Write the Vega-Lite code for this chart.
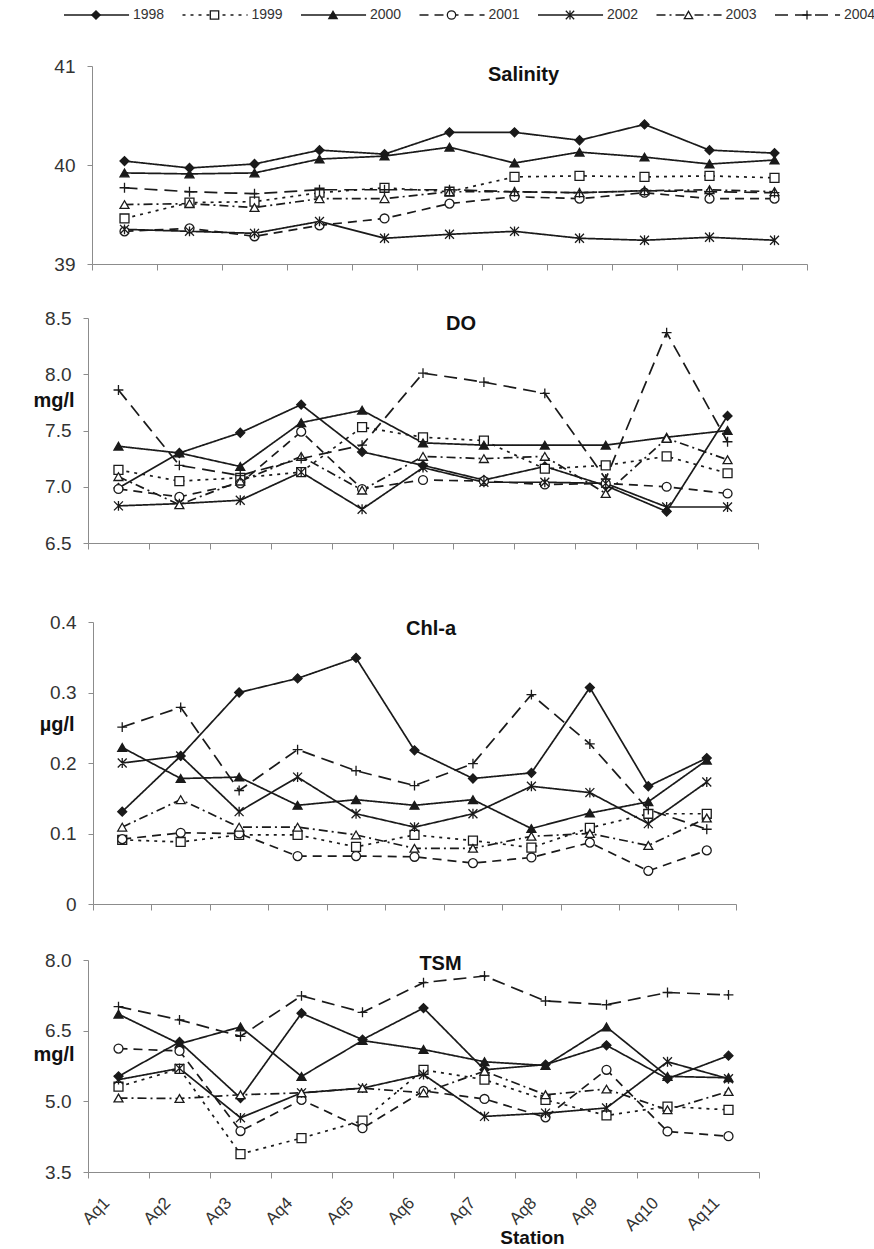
{
"$schema":"https://vega.github.io/schema/vega-lite/v6.json",
"padding":{"left":32,"top":7,"right":0,"bottom":0},
"background":"white",
"config":{"view":{"stroke":null},"font":"Liberation Sans","axis":{"labelOverlap":false}},
"datasets":{
"leg":[{"year":"1998"},{"year":"1999"},{"year":"2000"},{"year":"2001"},{"year":"2002"},{"year":"2003"},{"year":"2004"}],
"sal":[
{"station":"Aq1","year":"1998","value":40.04},{"station":"Aq2","year":"1998","value":39.97},{"station":"Aq3","year":"1998","value":40.01},{"station":"Aq4","year":"1998","value":40.15},{"station":"Aq5","year":"1998","value":40.11},{"station":"Aq6","year":"1998","value":40.33},{"station":"Aq7","year":"1998","value":40.33},{"station":"Aq8","year":"1998","value":40.25},{"station":"Aq9","year":"1998","value":40.41},{"station":"Aq10","year":"1998","value":40.15},{"station":"Aq11","year":"1998","value":40.12},
{"station":"Aq1","year":"1999","value":39.46},{"station":"Aq2","year":"1999","value":39.62},{"station":"Aq3","year":"1999","value":39.63},{"station":"Aq4","year":"1999","value":39.72},{"station":"Aq5","year":"1999","value":39.77},{"station":"Aq6","year":"1999","value":39.73},{"station":"Aq7","year":"1999","value":39.88},{"station":"Aq8","year":"1999","value":39.89},{"station":"Aq9","year":"1999","value":39.88},{"station":"Aq10","year":"1999","value":39.89},{"station":"Aq11","year":"1999","value":39.87},
{"station":"Aq1","year":"2000","value":39.92},{"station":"Aq2","year":"2000","value":39.91},{"station":"Aq3","year":"2000","value":39.92},{"station":"Aq4","year":"2000","value":40.06},{"station":"Aq5","year":"2000","value":40.09},{"station":"Aq6","year":"2000","value":40.18},{"station":"Aq7","year":"2000","value":40.02},{"station":"Aq8","year":"2000","value":40.13},{"station":"Aq9","year":"2000","value":40.08},{"station":"Aq10","year":"2000","value":40.01},{"station":"Aq11","year":"2000","value":40.05},
{"station":"Aq1","year":"2001","value":39.33},{"station":"Aq2","year":"2001","value":39.36},{"station":"Aq3","year":"2001","value":39.28},{"station":"Aq4","year":"2001","value":39.39},{"station":"Aq5","year":"2001","value":39.46},{"station":"Aq6","year":"2001","value":39.61},{"station":"Aq7","year":"2001","value":39.68},{"station":"Aq8","year":"2001","value":39.66},{"station":"Aq9","year":"2001","value":39.72},{"station":"Aq10","year":"2001","value":39.66},{"station":"Aq11","year":"2001","value":39.66},
{"station":"Aq1","year":"2002","value":39.35},{"station":"Aq2","year":"2002","value":39.33},{"station":"Aq3","year":"2002","value":39.31},{"station":"Aq4","year":"2002","value":39.43},{"station":"Aq5","year":"2002","value":39.26},{"station":"Aq6","year":"2002","value":39.30},{"station":"Aq7","year":"2002","value":39.33},{"station":"Aq8","year":"2002","value":39.26},{"station":"Aq9","year":"2002","value":39.24},{"station":"Aq10","year":"2002","value":39.27},{"station":"Aq11","year":"2002","value":39.24},
{"station":"Aq1","year":"2003","value":39.60},{"station":"Aq2","year":"2003","value":39.61},{"station":"Aq3","year":"2003","value":39.57},{"station":"Aq4","year":"2003","value":39.66},{"station":"Aq5","year":"2003","value":39.66},{"station":"Aq6","year":"2003","value":39.73},{"station":"Aq7","year":"2003","value":39.73},{"station":"Aq8","year":"2003","value":39.72},{"station":"Aq9","year":"2003","value":39.74},{"station":"Aq10","year":"2003","value":39.75},{"station":"Aq11","year":"2003","value":39.73},
{"station":"Aq1","year":"2004","value":39.77},{"station":"Aq2","year":"2004","value":39.73},{"station":"Aq3","year":"2004","value":39.71},{"station":"Aq4","year":"2004","value":39.75},{"station":"Aq5","year":"2004","value":39.75},{"station":"Aq6","year":"2004","value":39.75},{"station":"Aq7","year":"2004","value":39.73},{"station":"Aq8","year":"2004","value":39.72},{"station":"Aq9","year":"2004","value":39.74},{"station":"Aq10","year":"2004","value":39.73},{"station":"Aq11","year":"2004","value":39.72}
],
"do":[
{"station":"Aq1","year":"1998","value":6.99},{"station":"Aq2","year":"1998","value":7.30},{"station":"Aq3","year":"1998","value":7.48},{"station":"Aq4","year":"1998","value":7.73},{"station":"Aq5","year":"1998","value":7.31},{"station":"Aq6","year":"1998","value":7.19},{"station":"Aq7","year":"1998","value":7.06},{"station":"Aq8","year":"1998","value":7.18},{"station":"Aq9","year":"1998","value":7.01},{"station":"Aq10","year":"1998","value":6.78},{"station":"Aq11","year":"1998","value":7.63},
{"station":"Aq1","year":"1999","value":7.15},{"station":"Aq2","year":"1999","value":7.05},{"station":"Aq3","year":"1999","value":7.08},{"station":"Aq4","year":"1999","value":7.13},{"station":"Aq5","year":"1999","value":7.53},{"station":"Aq6","year":"1999","value":7.44},{"station":"Aq7","year":"1999","value":7.41},{"station":"Aq8","year":"1999","value":7.16},{"station":"Aq9","year":"1999","value":7.19},{"station":"Aq10","year":"1999","value":7.27},{"station":"Aq11","year":"1999","value":7.12},
{"station":"Aq1","year":"2000","value":7.36},{"station":"Aq2","year":"2000","value":7.30},{"station":"Aq3","year":"2000","value":7.18},{"station":"Aq4","year":"2000","value":7.57},{"station":"Aq5","year":"2000","value":7.68},{"station":"Aq6","year":"2000","value":7.39},{"station":"Aq7","year":"2000","value":7.37},{"station":"Aq8","year":"2000","value":7.37},{"station":"Aq9","year":"2000","value":7.37},{"station":"Aq10","year":"2000","value":7.44},{"station":"Aq11","year":"2000","value":7.50},
{"station":"Aq1","year":"2001","value":6.98},{"station":"Aq2","year":"2001","value":6.91},{"station":"Aq3","year":"2001","value":7.03},{"station":"Aq4","year":"2001","value":7.49},{"station":"Aq5","year":"2001","value":6.98},{"station":"Aq6","year":"2001","value":7.06},{"station":"Aq7","year":"2001","value":7.05},{"station":"Aq8","year":"2001","value":7.02},{"station":"Aq9","year":"2001","value":7.03},{"station":"Aq10","year":"2001","value":7.00},{"station":"Aq11","year":"2001","value":6.94},
{"station":"Aq1","year":"2002","value":6.83},{"station":"Aq2","year":"2002","value":6.85},{"station":"Aq3","year":"2002","value":6.88},{"station":"Aq4","year":"2002","value":7.13},{"station":"Aq5","year":"2002","value":6.80},{"station":"Aq6","year":"2002","value":7.17},{"station":"Aq7","year":"2002","value":7.04},{"station":"Aq8","year":"2002","value":7.04},{"station":"Aq9","year":"2002","value":7.03},{"station":"Aq10","year":"2002","value":6.82},{"station":"Aq11","year":"2002","value":6.82},
{"station":"Aq1","year":"2003","value":7.09},{"station":"Aq2","year":"2003","value":6.84},{"station":"Aq3","year":"2003","value":7.05},{"station":"Aq4","year":"2003","value":7.27},{"station":"Aq5","year":"2003","value":6.97},{"station":"Aq6","year":"2003","value":7.27},{"station":"Aq7","year":"2003","value":7.25},{"station":"Aq8","year":"2003","value":7.27},{"station":"Aq9","year":"2003","value":6.94},{"station":"Aq10","year":"2003","value":7.43},{"station":"Aq11","year":"2003","value":7.24},
{"station":"Aq1","year":"2004","value":7.86},{"station":"Aq2","year":"2004","value":7.19},{"station":"Aq3","year":"2004","value":7.10},{"station":"Aq4","year":"2004","value":7.25},{"station":"Aq5","year":"2004","value":7.37},{"station":"Aq6","year":"2004","value":8.01},{"station":"Aq7","year":"2004","value":7.93},{"station":"Aq8","year":"2004","value":7.83},{"station":"Aq9","year":"2004","value":7.07},{"station":"Aq10","year":"2004","value":8.37},{"station":"Aq11","year":"2004","value":7.40}
],
"chl":[
{"station":"Aq1","year":"1998","value":0.131},{"station":"Aq2","year":"1998","value":0.21},{"station":"Aq3","year":"1998","value":0.30},{"station":"Aq4","year":"1998","value":0.32},{"station":"Aq5","year":"1998","value":0.349},{"station":"Aq6","year":"1998","value":0.218},{"station":"Aq7","year":"1998","value":0.178},{"station":"Aq8","year":"1998","value":0.186},{"station":"Aq9","year":"1998","value":0.307},{"station":"Aq10","year":"1998","value":0.167},{"station":"Aq11","year":"1998","value":0.207},
{"station":"Aq1","year":"1999","value":0.091},{"station":"Aq2","year":"1999","value":0.088},{"station":"Aq3","year":"1999","value":0.098},{"station":"Aq4","year":"1999","value":0.098},{"station":"Aq5","year":"1999","value":0.081},{"station":"Aq6","year":"1999","value":0.098},{"station":"Aq7","year":"1999","value":0.090},{"station":"Aq8","year":"1999","value":0.080},{"station":"Aq9","year":"1999","value":0.108},{"station":"Aq10","year":"1999","value":0.128},{"station":"Aq11","year":"1999","value":0.128},
{"station":"Aq1","year":"2000","value":0.222},{"station":"Aq2","year":"2000","value":0.178},{"station":"Aq3","year":"2000","value":0.18},{"station":"Aq4","year":"2000","value":0.14},{"station":"Aq5","year":"2000","value":0.148},{"station":"Aq6","year":"2000","value":0.14},{"station":"Aq7","year":"2000","value":0.148},{"station":"Aq8","year":"2000","value":0.107},{"station":"Aq9","year":"2000","value":0.129},{"station":"Aq10","year":"2000","value":0.145},{"station":"Aq11","year":"2000","value":0.204},
{"station":"Aq1","year":"2001","value":0.092},{"station":"Aq2","year":"2001","value":0.101},{"station":"Aq3","year":"2001","value":0.10},{"station":"Aq4","year":"2001","value":0.068},{"station":"Aq5","year":"2001","value":0.068},{"station":"Aq6","year":"2001","value":0.067},{"station":"Aq7","year":"2001","value":0.058},{"station":"Aq8","year":"2001","value":0.066},{"station":"Aq9","year":"2001","value":0.087},{"station":"Aq10","year":"2001","value":0.047},{"station":"Aq11","year":"2001","value":0.076},
{"station":"Aq1","year":"2002","value":0.20},{"station":"Aq2","year":"2002","value":0.21},{"station":"Aq3","year":"2002","value":0.131},{"station":"Aq4","year":"2002","value":0.18},{"station":"Aq5","year":"2002","value":0.128},{"station":"Aq6","year":"2002","value":0.109},{"station":"Aq7","year":"2002","value":0.128},{"station":"Aq8","year":"2002","value":0.167},{"station":"Aq9","year":"2002","value":0.158},{"station":"Aq10","year":"2002","value":0.114},{"station":"Aq11","year":"2002","value":0.173},
{"station":"Aq1","year":"2003","value":0.109},{"station":"Aq2","year":"2003","value":0.148},{"station":"Aq3","year":"2003","value":0.109},{"station":"Aq4","year":"2003","value":0.109},{"station":"Aq5","year":"2003","value":0.098},{"station":"Aq6","year":"2003","value":0.079},{"station":"Aq7","year":"2003","value":0.079},{"station":"Aq8","year":"2003","value":0.096},{"station":"Aq9","year":"2003","value":0.10},{"station":"Aq10","year":"2003","value":0.083},{"station":"Aq11","year":"2003","value":0.122},
{"station":"Aq1","year":"2004","value":0.251},{"station":"Aq2","year":"2004","value":0.279},{"station":"Aq3","year":"2004","value":0.161},{"station":"Aq4","year":"2004","value":0.219},{"station":"Aq5","year":"2004","value":0.189},{"station":"Aq6","year":"2004","value":0.168},{"station":"Aq7","year":"2004","value":0.199},{"station":"Aq8","year":"2004","value":0.297},{"station":"Aq9","year":"2004","value":0.227},{"station":"Aq10","year":"2004","value":0.134},{"station":"Aq11","year":"2004","value":0.106}
],
"tsm":[
{"station":"Aq1","year":"1998","value":5.53},{"station":"Aq2","year":"1998","value":6.26},{"station":"Aq3","year":"1998","value":5.07},{"station":"Aq4","year":"1998","value":6.87},{"station":"Aq5","year":"1998","value":6.31},{"station":"Aq6","year":"1998","value":6.98},{"station":"Aq7","year":"1998","value":5.67},{"station":"Aq8","year":"1998","value":5.78},{"station":"Aq9","year":"1998","value":6.19},{"station":"Aq10","year":"1998","value":5.48},{"station":"Aq11","year":"1998","value":5.97},
{"station":"Aq1","year":"1999","value":5.31},{"station":"Aq2","year":"1999","value":5.69},{"station":"Aq3","year":"1999","value":3.88},{"station":"Aq4","year":"1999","value":4.22},{"station":"Aq5","year":"1999","value":4.59},{"station":"Aq6","year":"1999","value":5.67},{"station":"Aq7","year":"1999","value":5.46},{"station":"Aq8","year":"1999","value":5.03},{"station":"Aq9","year":"1999","value":4.70},{"station":"Aq10","year":"1999","value":4.89},{"station":"Aq11","year":"1999","value":4.82},
{"station":"Aq1","year":"2000","value":6.85},{"station":"Aq2","year":"2000","value":6.22},{"station":"Aq3","year":"2000","value":6.58},{"station":"Aq4","year":"2000","value":5.53},{"station":"Aq5","year":"2000","value":6.29},{"station":"Aq6","year":"2000","value":6.10},{"station":"Aq7","year":"2000","value":5.84},{"station":"Aq8","year":"2000","value":5.76},{"station":"Aq9","year":"2000","value":6.58},{"station":"Aq10","year":"2000","value":5.53},{"station":"Aq11","year":"2000","value":5.50},
{"station":"Aq1","year":"2001","value":6.12},{"station":"Aq2","year":"2001","value":6.07},{"station":"Aq3","year":"2001","value":4.37},{"station":"Aq4","year":"2001","value":5.03},{"station":"Aq5","year":"2001","value":4.43},{"station":"Aq6","year":"2001","value":5.22},{"station":"Aq7","year":"2001","value":5.05},{"station":"Aq8","year":"2001","value":4.66},{"station":"Aq9","year":"2001","value":5.67},{"station":"Aq10","year":"2001","value":4.36},{"station":"Aq11","year":"2001","value":4.26},
{"station":"Aq1","year":"2002","value":5.46},{"station":"Aq2","year":"2002","value":5.70},{"station":"Aq3","year":"2002","value":4.65},{"station":"Aq4","year":"2002","value":5.18},{"station":"Aq5","year":"2002","value":5.28},{"station":"Aq6","year":"2002","value":5.57},{"station":"Aq7","year":"2002","value":4.68},{"station":"Aq8","year":"2002","value":4.75},{"station":"Aq9","year":"2002","value":4.86},{"station":"Aq10","year":"2002","value":5.84},{"station":"Aq11","year":"2002","value":5.48},
{"station":"Aq1","year":"2003","value":5.07},{"station":"Aq2","year":"2003","value":5.06},{"station":"Aq3","year":"2003","value":5.14},{"station":"Aq4","year":"2003","value":5.18},{"station":"Aq5","year":"2003","value":5.28},{"station":"Aq6","year":"2003","value":5.18},{"station":"Aq7","year":"2003","value":5.64},{"station":"Aq8","year":"2003","value":5.14},{"station":"Aq9","year":"2003","value":5.26},{"station":"Aq10","year":"2003","value":4.82},{"station":"Aq11","year":"2003","value":5.21},
{"station":"Aq1","year":"2004","value":7.01},{"station":"Aq2","year":"2004","value":6.73},{"station":"Aq3","year":"2004","value":6.38},{"station":"Aq4","year":"2004","value":7.24},{"station":"Aq5","year":"2004","value":6.89},{"station":"Aq6","year":"2004","value":7.52},{"station":"Aq7","year":"2004","value":7.66},{"station":"Aq8","year":"2004","value":7.13},{"station":"Aq9","year":"2004","value":7.05},{"station":"Aq10","year":"2004","value":7.31},{"station":"Aq11","year":"2004","value":7.26}
]
},
"bounds":"flush",
"spacing":20,
"vconcat":[
{
"width":800,"height":16,
"data":{"name":"leg"},
"layer":[
{"mark":{"type":"rule","color":"#1a1a1a","strokeWidth":1.6},
 "encoding":{
  "x":{"field":"year","type":"nominal","bandPosition":0,"scale":{"type":"band","range":[-24,805.5],"paddingInner":0,"paddingOuter":0},"axis":null},
  "x2":{"field":"year","bandPosition":0.549},
  "strokeDash":{"field":"year","type":"nominal","scale":{"domain":["1998","1999","2000","2001","2002","2003","2004"],"range":[[1,0],[3,5],[1,0],[9,6],[1,0],[9,4,2,4],[13,7]]},"legend":null}}},
{"mark":{"type":"point","size":70,"stroke":"#1a1a1a","strokeWidth":1.3,"opacity":1},
 "encoding":{
  "x":{"field":"year","type":"nominal","bandPosition":0.27,"scale":{"type":"band","range":[-24,805.5],"paddingInner":0,"paddingOuter":0},"axis":null},
  "shape":{"field":"year","type":"nominal","scale":{"domain":["1998","1999","2000","2001","2002","2003","2004"],"range":["diamond","square","triangle-up","circle","M-1,-1L1,1M-1,1L1,-1M0,-1.1L0,1.1","triangle-up","M-1.1,0L1.1,0M0,-1.1L0,1.1"]},"legend":null},
  "fill":{"field":"year","type":"nominal","scale":{"domain":["1998","1999","2000","2001","2002","2003","2004"],"range":["#1a1a1a","#ffffff","#1a1a1a","#ffffff","transparent","#ffffff","transparent"]},"legend":null}}},
{"mark":{"type":"text","align":"left","baseline":"middle","fontSize":14,"font":"Liberation Sans","color":"#333"},
 "encoding":{
  "x":{"field":"year","type":"nominal","bandPosition":0.582,"scale":{"type":"band","range":[-24,805.5],"paddingInner":0,"paddingOuter":0},"axis":null},
  "text":{"field":"year"}}}
]
},
{"width":10,"height":3,"data":{"values":[{}]},"mark":{"type":"rule","opacity":0},"encoding":{}},
{
"width":719,"height":198,
"data":{"name":"sal"},
"title":{"text":"Salinity","frame":"group","anchor":"middle","baseline":"middle","offset":-12,"dy":26,"dx":76,"fontSize":20,"fontWeight":"bold","color":"#111"},
"encoding":{
 "x":{"field":"station","type":"nominal","scale":{"type":"band","domain":["Aq1","Aq2","Aq3","Aq4","Aq5","Aq6","Aq7","Aq8","Aq9","Aq10","Aq11"],"range":[4,719],"paddingInner":0,"paddingOuter":0},"axis":{"labels":false,"title":null,"tickBand":"extent","tickSize":6,"domainColor":"#8c8c8c","tickColor":"#8c8c8c","grid":false}},
 "y":{"field":"value","type":"quantitative","scale":{"domain":[39,41],"nice":false,"zero":false},"axis":{"offset":-4,"values":[39,39.5,40,40.5,41],"labelExpr":"datum.value % 1 == 0 ? format(datum.value, '.0f') : ''","tickSize":5,"labelOverlap":false,"labelFlush":false,"title":null,"grid":false,"labelPadding":12,"labelFontSize":19,"labelColor":"#333","domainColor":"#8c8c8c","tickColor":{"condition":{"test":"datum.value % 1 == 0","value":"#8c8c8c"},"value":"transparent"}}}
},
"layer":[
{"mark":{"type":"line","color":"#1a1a1a","strokeWidth":1.7},"encoding":{"strokeDash":{"field":"year","type":"nominal","scale":{"domain":["1998","1999","2000","2001","2002","2003","2004"],"range":[[1,0],[3,5],[1,0],[9,6],[1,0],[9,4,2,4],[13,7]]},"legend":null}}},
{"mark":{"type":"point","size":80,"stroke":"#1a1a1a","strokeWidth":1.3,"opacity":1},"encoding":{
 "shape":{"field":"year","type":"nominal","scale":{"domain":["1998","1999","2000","2001","2002","2003","2004"],"range":["diamond","square","triangle-up","circle","M-1,-1L1,1M-1,1L1,-1M0,-1.1L0,1.1","triangle-up","M-1.1,0L1.1,0M0,-1.1L0,1.1"]},"legend":null},
 "fill":{"field":"year","type":"nominal","scale":{"domain":["1998","1999","2000","2001","2002","2003","2004"],"range":["#1a1a1a","#ffffff","#1a1a1a","#ffffff","transparent","#ffffff","transparent"]},"legend":null}}}
]
},
{"width":10,"height":14,"data":{"values":[{}]},"mark":{"type":"rule","opacity":0},"encoding":{}},
{
"width":670,"height":225,
"data":{"name":"do"},
"title":{"text":"DO","frame":"group","anchor":"middle","baseline":"middle","offset":-12,"dy":23,"dx":38,"fontSize":20,"fontWeight":"bold","color":"#111"},
"encoding":{
 "x":{"field":"station","type":"nominal","scale":{"type":"band","domain":["Aq1","Aq2","Aq3","Aq4","Aq5","Aq6","Aq7","Aq8","Aq9","Aq10","Aq11"],"paddingInner":0,"paddingOuter":0},"axis":{"labels":false,"title":null,"tickBand":"extent","tickSize":6,"domainColor":"#8c8c8c","tickColor":"#8c8c8c","grid":false}},
 "y":{"field":"value","type":"quantitative","scale":{"domain":[6.5,8.5],"nice":false,"zero":false},"axis":{"values":[6.5,7,7.5,8,8.5],"format":".1f","labelFlush":false,"title":"mg/l","titleAngle":0,"titleAlign":"right","titleBaseline":"middle","titleX":-14,"titleY":82,"titleFontSize":20,"titleFontWeight":"bold","titleColor":"#111","grid":false,"tickSize":5,"labelPadding":12,"labelFontSize":19,"labelColor":"#333","domainColor":"#8c8c8c","tickColor":"#8c8c8c"}}
},
"layer":[
{"mark":{"type":"line","color":"#1a1a1a","strokeWidth":1.7},"encoding":{"strokeDash":{"field":"year","type":"nominal","scale":{"domain":["1998","1999","2000","2001","2002","2003","2004"],"range":[[1,0],[3,5],[1,0],[9,6],[1,0],[9,4,2,4],[13,7]]},"legend":null}}},
{"mark":{"type":"point","size":80,"stroke":"#1a1a1a","strokeWidth":1.3,"opacity":1},"encoding":{
 "shape":{"field":"year","type":"nominal","scale":{"domain":["1998","1999","2000","2001","2002","2003","2004"],"range":["diamond","square","triangle-up","circle","M-1,-1L1,1M-1,1L1,-1M0,-1.1L0,1.1","triangle-up","M-1.1,0L1.1,0M0,-1.1L0,1.1"]},"legend":null},
 "fill":{"field":"year","type":"nominal","scale":{"domain":["1998","1999","2000","2001","2002","2003","2004"],"range":["#1a1a1a","#ffffff","#1a1a1a","#ffffff","transparent","#ffffff","transparent"]},"legend":null}}}
]
},
{"width":10,"height":39,"data":{"values":[{}]},"mark":{"type":"rule","opacity":0},"encoding":{}},
{
"width":648,"height":282,
"data":{"name":"chl"},
"title":{"text":"Chl-a","frame":"group","anchor":"middle","baseline":"middle","offset":-12,"dy":24,"dx":19,"fontSize":20,"fontWeight":"bold","color":"#111"},
"encoding":{
 "x":{"field":"station","type":"nominal","scale":{"type":"band","domain":["Aq1","Aq2","Aq3","Aq4","Aq5","Aq6","Aq7","Aq8","Aq9","Aq10","Aq11"],"range":[5,648],"paddingInner":0,"paddingOuter":0},"axis":{"labels":false,"title":null,"tickBand":"extent","tickSize":6,"domainColor":"#8c8c8c","tickColor":"#8c8c8c","grid":false}},
 "y":{"field":"value","type":"quantitative","scale":{"domain":[0,0.4],"nice":false,"zero":false},"axis":{"offset":-5,"values":[0,0.1,0.2,0.3,0.4],"format":"~f","labelFlush":false,"title":"µg/l","titleAngle":0,"titleAlign":"right","titleBaseline":"middle","titleX":-19,"titleY":102,"titleFontSize":20,"titleFontWeight":"bold","titleColor":"#111","grid":false,"tickSize":5,"labelPadding":12,"labelFontSize":19,"labelColor":"#333","domainColor":"#8c8c8c","tickColor":"#8c8c8c"}}
},
"layer":[
{"mark":{"type":"line","color":"#1a1a1a","strokeWidth":1.7},"encoding":{"strokeDash":{"field":"year","type":"nominal","scale":{"domain":["1998","1999","2000","2001","2002","2003","2004"],"range":[[1,0],[3,5],[1,0],[9,6],[1,0],[9,4,2,4],[13,7]]},"legend":null}}},
{"mark":{"type":"point","size":80,"stroke":"#1a1a1a","strokeWidth":1.3,"opacity":1},"encoding":{
 "shape":{"field":"year","type":"nominal","scale":{"domain":["1998","1999","2000","2001","2002","2003","2004"],"range":["diamond","square","triangle-up","circle","M-1,-1L1,1M-1,1L1,-1M0,-1.1L0,1.1","triangle-up","M-1.1,0L1.1,0M0,-1.1L0,1.1"]},"legend":null},
 "fill":{"field":"year","type":"nominal","scale":{"domain":["1998","1999","2000","2001","2002","2003","2004"],"range":["#1a1a1a","#ffffff","#1a1a1a","#ffffff","transparent","#ffffff","transparent"]},"legend":null}}}
]
},
{"width":10,"height":16,"data":{"values":[{}]},"mark":{"type":"rule","opacity":0},"encoding":{}},
{
"width":671,"height":212,
"data":{"name":"tsm"},
"title":{"text":"TSM","frame":"group","anchor":"middle","baseline":"middle","offset":-12,"dy":21,"dx":17,"fontSize":20,"fontWeight":"bold","color":"#111"},
"encoding":{
 "x":{"field":"station","type":"nominal","scale":{"type":"band","domain":["Aq1","Aq2","Aq3","Aq4","Aq5","Aq6","Aq7","Aq8","Aq9","Aq10","Aq11"],"paddingInner":0,"paddingOuter":0},"axis":{"labels":true,"labelAngle":-45,"labelAlign":"right","labelBaseline":"middle","labelFontSize":17,"labelColor":"#333","labelPadding":22,"labelOffset":-12,"title":"Station","titleFontSize":19,"titleFontWeight":"bold","titleColor":"#111","titleX":444,"titleY":65,"titleBaseline":"middle","tickBand":"extent","tickSize":6,"domainColor":"#8c8c8c","tickColor":"#8c8c8c","grid":false}},
 "y":{"field":"value","type":"quantitative","scale":{"domain":[3.5,8],"nice":false,"zero":false},"axis":{"values":[3.5,5,6.5,8],"format":".1f","labelFlush":false,"title":"mg/l","titleAngle":0,"titleAlign":"right","titleBaseline":"middle","titleX":-14,"titleY":94,"titleFontSize":20,"titleFontWeight":"bold","titleColor":"#111","grid":false,"tickSize":5,"labelPadding":12,"labelFontSize":19,"labelColor":"#333","domainColor":"#8c8c8c","tickColor":"#8c8c8c"}}
},
"layer":[
{"mark":{"type":"line","color":"#1a1a1a","strokeWidth":1.7},"encoding":{"strokeDash":{"field":"year","type":"nominal","scale":{"domain":["1998","1999","2000","2001","2002","2003","2004"],"range":[[1,0],[3,5],[1,0],[9,6],[1,0],[9,4,2,4],[13,7]]},"legend":null}}},
{"mark":{"type":"point","size":80,"stroke":"#1a1a1a","strokeWidth":1.3,"opacity":1},"encoding":{
 "shape":{"field":"year","type":"nominal","scale":{"domain":["1998","1999","2000","2001","2002","2003","2004"],"range":["diamond","square","triangle-up","circle","M-1,-1L1,1M-1,1L1,-1M0,-1.1L0,1.1","triangle-up","M-1.1,0L1.1,0M0,-1.1L0,1.1"]},"legend":null},
 "fill":{"field":"year","type":"nominal","scale":{"domain":["1998","1999","2000","2001","2002","2003","2004"],"range":["#1a1a1a","#ffffff","#1a1a1a","#ffffff","transparent","#ffffff","transparent"]},"legend":null}}}
]
}
]
}
